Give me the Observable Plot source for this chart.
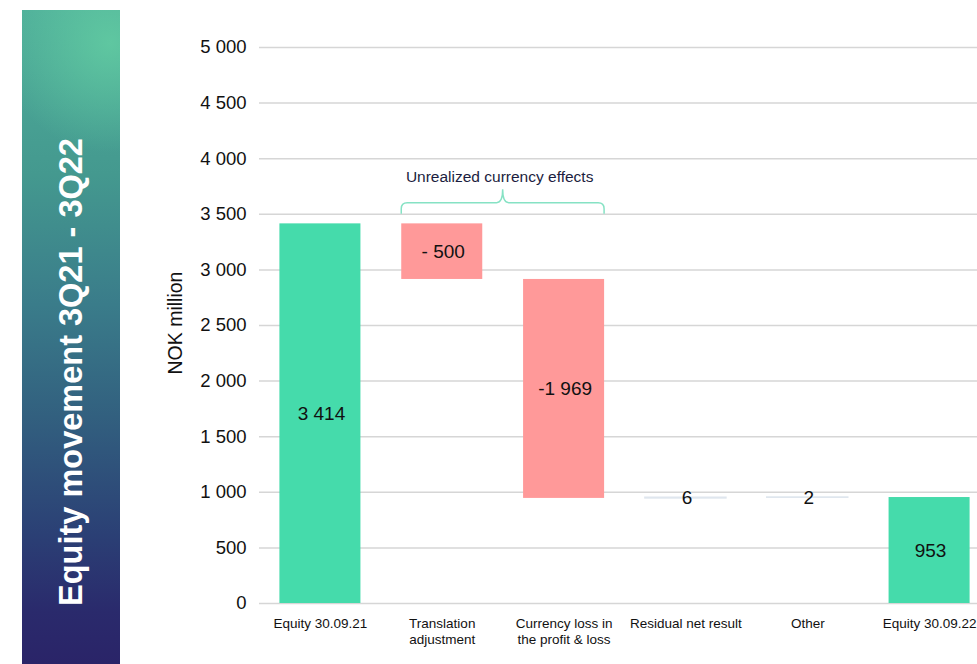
<!DOCTYPE html>
<html>
<head>
<meta charset="utf-8">
<script src="https://cdn.jsdelivr.net/npm/d3@7"></script>
<script src="https://cdn.jsdelivr.net/npm/@observablehq/plot@0.6"></script>
<style>
  html, body { margin: 0; padding: 0; background: #fff; overflow: hidden; width: 977px; height: 664px; }
  #wrap { position: relative; width: 977px; height: 664px; overflow: hidden; font-family: "Liberation Sans", Arial, sans-serif; }
  #chart { position: absolute; left: 0; top: 0; }
  #banner {
    position: absolute; left: 22px; top: 10px; width: 98px; height: 654px;
    background:
      radial-gradient(circle at 90% 5%, rgba(98, 204, 162, 0.85) 0px, rgba(98, 204, 162, 0) 110px),
      linear-gradient(to bottom, #4fae9a 0%, #44998f 25%, #3a7c8a 45%, #32607f 62%, #2b4075 80%, #2a2a6c 92%, #2a2468 100%);
  }
  #banner span {
    position: absolute; left: 50%; top: 55.3%;
    transform: translate(-50%, -50%) rotate(-90deg);
    white-space: nowrap; color: #fff; font-weight: bold; font-size: 32.5px;
    font-family: "Liberation Sans", Arial, sans-serif;
  }
</style>
</head>
<body>
<div id="wrap">
  <div id="chart"></div>
  <div id="banner"><span>Equity movement 3Q21 - 3Q22</span></div>
</div>
<script>
// ---- data ----
const categories = ["Equity 30.09.21", "Translation\nadjustment", "Currency loss in\nthe profit & loss", "Residual net result", "Other", "Equity 30.09.22"];
const changes = [3414, -500, -1969, 6, 2, 953];
const valueLabels = ["3 414", "- 500", "-1 969", "6", "2", "953"];
const kinds = ["total", "delta", "delta", "small", "small", "total"];
const yTicks = [0, 500, 1000, 1500, 2000, 2500, 3000, 3500, 4000, 4500, 5000];
const yLabel = "NOK million";
const braceText = "Unrealized currency effects";
const braceFrom = "Translation\nadjustment";
const braceTo = "Currency loss in\nthe profit & loss";
const braceLevels = {bottom: 3500, top: 3600, peak: 3720, text: 3790};

// ---- build waterfall table ----
let running = 0;
const rows = categories.map((c, i) => {
  let y1, y2;
  if (kinds[i] === "total") { y1 = 0; y2 = changes[i]; running = changes[i]; }
  else { y1 = running; y2 = running + changes[i]; running = y2; }
  return {cat: c, y1, y2, mid: (y1 + y2) / 2, label: valueLabels[i], kind: kinds[i]};
});
const fills = {total: "#45dbab", delta: "#ff9999", small: "#dfe6ee"};

const fmt = d => d3.format(",")(d).replace(/,/g, " ");

const braceMark = (index, scales, values, dims) => {
  const x = scales.x, y = scales.y;
  const x1 = x(braceFrom), x2 = x(braceTo) + x.bandwidth();
  const xm = (x1 + x2) / 2;
  const yb = y(braceLevels.bottom), yt = y(braceLevels.top), yp = y(braceLevels.peak);
  const r = 6;
  const g = d3.create("svg:g");
  g.append("path")
    .attr("fill", "none").attr("stroke", "#86e2c4").attr("stroke-width", 1.5)
    .attr("d", `M${x1},${yb} L${x1},${yt + r} Q${x1},${yt} ${x1 + r},${yt} L${xm - r},${yt} Q${xm},${yt} ${xm},${yp} Q${xm},${yt} ${xm + r},${yt} L${x2 - r},${yt} Q${x2},${yt} ${x2},${yt + r} L${x2},${yb}`);
  g.append("text")
    .attr("x", xm - 3).attr("y", y(braceLevels.text))
    .attr("text-anchor", "middle").attr("fill", "#1b1d40")
    .attr("font-size", 15.5).attr("font-family", "Liberation Sans, Arial, sans-serif")
    .text(braceText);
  g.append("text")
    .attr("transform", `translate(182, ${(y(0) + y(5000)) / 2 - 2}) rotate(-90)`)
    .attr("text-anchor", "middle").attr("fill", "#111")
    .attr("font-size", 19.5).attr("font-family", "Liberation Sans, Arial, sans-serif")
    .text(yLabel);
  return g.node();
};

const bigRows = rows.filter(d => d.kind !== "small");
const smallRows = rows.filter(d => d.kind === "small");

const chart = Plot.plot({
  width: 990,
  height: 664,
  marginLeft: 259,
  marginRight: 0,
  marginTop: 47,
  marginBottom: 61,
  style: {fontFamily: "Liberation Sans, Arial, sans-serif", maxWidth: "none", background: "transparent", overflow: "visible"},
  x: {domain: categories, paddingInner: 0.335, paddingOuter: 0.1675, round: false, label: null},
  y: {domain: [0, 5000], label: null},
  marks: [
    Plot.gridY(yTicks, {stroke: "#d6d6d6", strokeOpacity: 1, strokeWidth: 1.5}),
    Plot.axisY(yTicks, {tickSize: 0, tickPadding: 13, tickFormat: fmt, fontSize: 18.5, fill: "#111", label: null}),
    Plot.axisX({tickSize: 0, tickPadding: 13, fontSize: 13.5, fill: "#111", lineHeight: 1.2, label: null}),
    Plot.barY(bigRows.filter(d => d.kind === "total"), {x: "cat", y1: "y1", y2: "y2", fill: fills.total}),
    Plot.barY(bigRows.filter(d => d.kind === "delta"), {x: "cat", y1: "y1", y2: "y2", fill: fills.delta}),
    Plot.barY(smallRows, {x: "cat", y1: "y1", y2: "y2", fill: fills.small, stroke: fills.small, strokeWidth: 1.5}),
    Plot.text(rows, {x: "cat", y: "mid", text: "label", fontSize: 19, fill: "#111", dx: 1}),
    braceMark
  ]
});
document.getElementById("chart").appendChild(chart);
</script>
</body>
</html>
